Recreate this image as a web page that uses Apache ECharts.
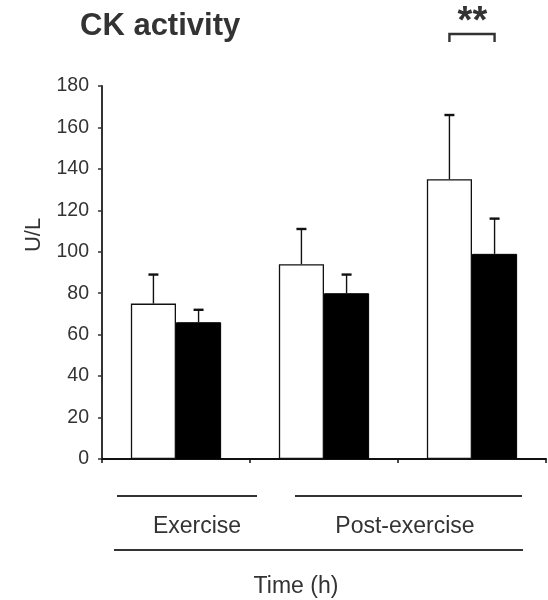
<!DOCTYPE html>
<html>
<head>
<meta charset="utf-8">
<script src="https://cdn.jsdelivr.net/npm/echarts@6/dist/echarts.min.js"></script>
<style>html,body{margin:0;padding:0;background:#fff;}#c{width:548px;height:600px;}</style>
</head>
<body>
<div id="c"></div>
<script>
var categories = ['Exercise', 'Post-exercise 1', 'Post-exercise 2'];
var whiteValues = [75, 94, 135];
var whiteErrors = [14, 17, 31];
var blackValues = [66, 80, 99];
var blackErrors = [6, 9, 17];
var yTicks = [0, 20, 40, 60, 80, 100, 120, 140, 160, 180];

var FONT = 'Liberation Sans, Arial, Helvetica, sans-serif';
var BAR_FRAC = 0.305;

function errData(vals, errs) {
  return vals.map(function (v, i) { return [i, v, errs[i]]; });
}
function errRenderer(side) {
  return function (params, api) {
    var i = api.value(0), v = api.value(1), e = api.value(2);
    var base = api.coord([i, v]);
    var top = api.coord([i, v + e]);
    var bw = api.size([1, 0])[0] * BAR_FRAC;
    var x = base[0] + side * bw / 2;
    return {
      type: 'group',
      children: [
        { type: 'line', shape: { x1: x, y1: base[1], x2: x, y2: top[1] }, style: { stroke: '#111', lineWidth: 1.4 } },
        { type: 'line', shape: { x1: x - 5, y1: top[1], x2: x + 5, y2: top[1] }, style: { stroke: '#111', lineWidth: 2.4 } }
      ]
    };
  };
}

var chart = echarts.init(document.getElementById('c'), null, { renderer: 'canvas' });
var option = {
  animation: false,
  backgroundColor: '#fff',
  grid: { left: 102, right: 2, top: 86, bottom: 141, containLabel: false, outerBoundsMode: 'none' },
  xAxis: {
    type: 'category',
    data: categories,
    boundaryGap: true,
    axisLine: { lineStyle: { color: '#111', width: 2 } },
    axisTick: { show: true, length: 4, lineStyle: { color: '#111', width: 1.5 } },
    axisLabel: { show: false },
    splitLine: { show: false }
  },
  yAxis: {
    type: 'value',
    min: yTicks[0],
    max: yTicks[yTicks.length - 1],
    interval: yTicks[1] - yTicks[0],
    axisLine: { show: true, lineStyle: { color: '#333', width: 2 } },
    axisTick: { show: true, length: 4, lineStyle: { color: '#333', width: 1.5 } },
    axisLabel: { color: '#333', fontSize: 19.5, fontFamily: FONT, margin: 13 },
    splitLine: { show: false }
  },
  series: [
    {
      type: 'bar', name: 'white', data: whiteValues, barWidth: (BAR_FRAC * 100) + '%', barGap: '0%',
      itemStyle: { color: '#fff', borderColor: '#111', borderWidth: 1.3 }, z: 2
    },
    {
      type: 'bar', name: 'black', data: blackValues, barWidth: (BAR_FRAC * 100) + '%', barGap: '0%',
      itemStyle: { color: '#000', borderColor: '#000', borderWidth: 1 }, z: 2
    },
    { type: 'custom', data: errData(whiteValues, whiteErrors), renderItem: errRenderer(-1), encode: { x: 0, y: 1 }, z: 3 },
    { type: 'custom', data: errData(blackValues, blackErrors), renderItem: errRenderer(1), encode: { x: 0, y: 1 }, z: 3 }
  ]
};
chart.setOption(option);

// annotation positions derived from the axes
var p0 = chart.convertToPixel({ gridIndex: 0 }, [2, 0]);
var p1 = chart.convertToPixel({ gridIndex: 0 }, [1, 0]);
var catW = p0[0] - p1[0];
var bw = catW * BAR_FRAC;
var bx1 = p0[0] - bw / 2, bx2 = p0[0] + bw / 2;
var mid = (bx1 + bx2) / 2;

chart.setOption({
  graphic: [
    { type: 'text', left: 80, top: 11, style: { text: 'CK activity', fill: '#333', font: 'bold 31px ' + FONT } },
    { type: 'text', x: mid - 7, y: 23, style: { text: '*', fill: '#333', font: 'bold 38px ' + FONT, align: 'center', verticalAlign: 'middle' } },
    { type: 'text', x: mid + 8, y: 23, style: { text: '*', fill: '#333', font: 'bold 38px ' + FONT, align: 'center', verticalAlign: 'middle' } },
    { type: 'polyline', shape: { points: [[bx1, 42], [bx1, 34], [bx2, 34], [bx2, 42]] }, style: { stroke: '#333', lineWidth: 2.4, fill: null } },
    { type: 'text', x: 34, y: 235, rotation: Math.PI / 2, style: { text: 'U/L', fill: '#333', font: '22px ' + FONT, align: 'center', verticalAlign: 'middle' } },
    { type: 'line', shape: { x1: 117, y1: 496, x2: 257, y2: 496 }, style: { stroke: '#333', lineWidth: 2 } },
    { type: 'line', shape: { x1: 295, y1: 496, x2: 522, y2: 496 }, style: { stroke: '#333', lineWidth: 2 } },
    { type: 'line', shape: { x1: 114, y1: 550, x2: 523, y2: 550 }, style: { stroke: '#333', lineWidth: 2 } },
    { type: 'text', x: 197, y: 527, style: { text: 'Exercise', fill: '#333', font: '23px ' + FONT, align: 'center', verticalAlign: 'middle' } },
    { type: 'text', x: 405, y: 527, style: { text: 'Post-exercise', fill: '#333', font: '23px ' + FONT, align: 'center', verticalAlign: 'middle' } },
    { type: 'text', x: 296, y: 587, style: { text: 'Time (h)', fill: '#333', font: '23px ' + FONT, align: 'center', verticalAlign: 'middle' } }
  ]
});
</script>
</body>
</html>
